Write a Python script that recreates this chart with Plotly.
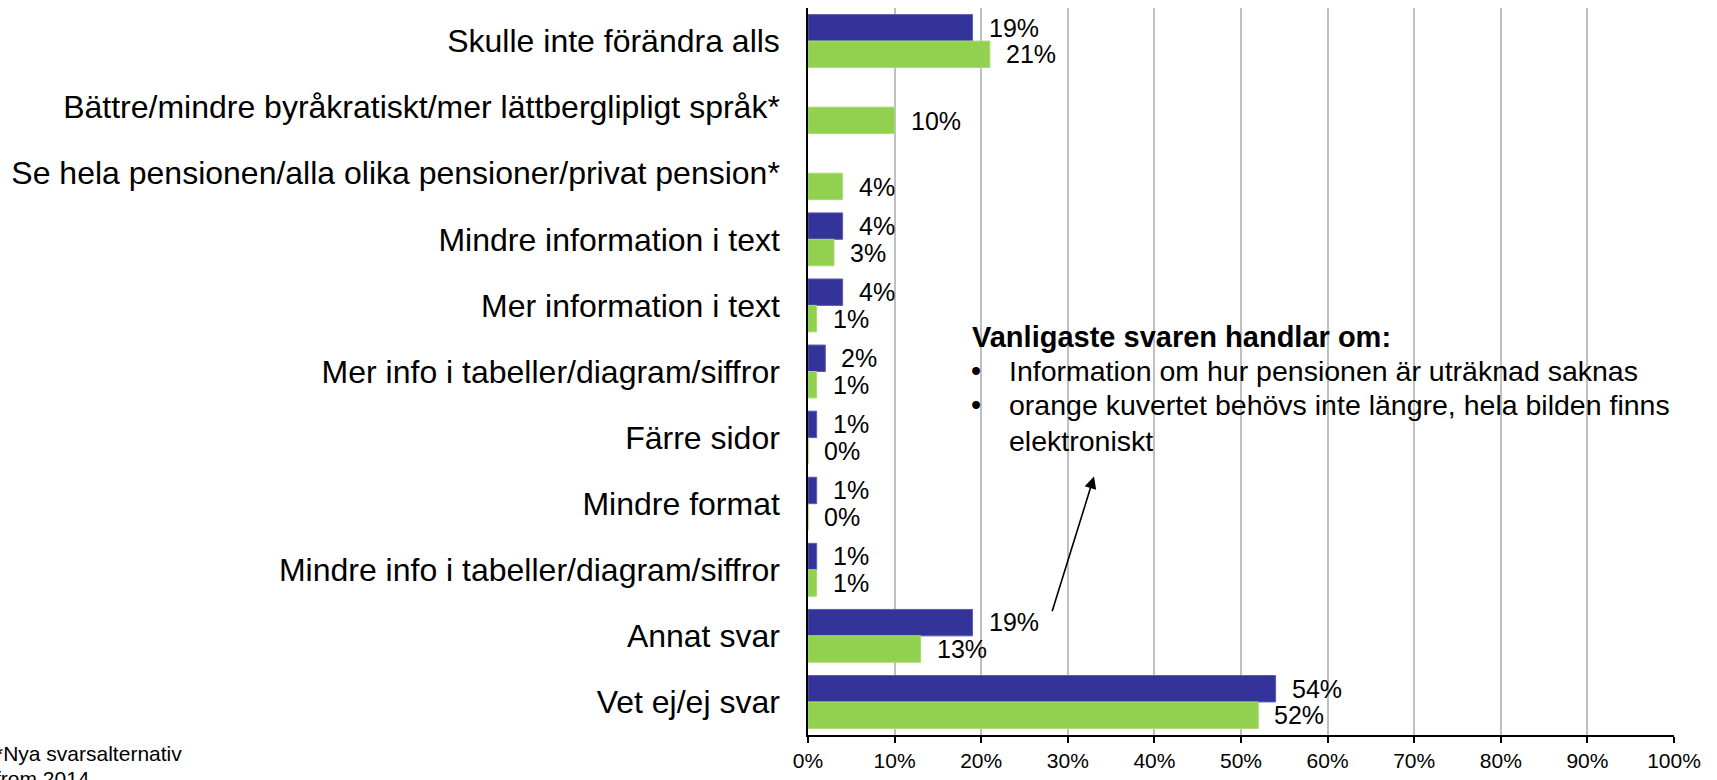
import plotly.graph_objects as go

categories = [
    "Skulle inte förändra alls",
    "Bättre/mindre byråkratiskt/mer lättberglipligt språk*",
    "Se hela pensionen/alla olika pensioner/privat pension*",
    "Mindre information i text",
    "Mer information i text",
    "Mer info i tabeller/diagram/siffror",
    "Färre sidor",
    "Mindre format",
    "Mindre info i tabeller/diagram/siffror",
    "Annat svar",
    "Vet ej/ej svar",
]
series_a = [19, None, None, 4, 4, 2, 1, 1, 1, 19, 54]   # blue
series_b = [21, 10, 4, 3, 1, 1, 0, 0, 1, 13, 52]        # green
x_ticks = [0, 10, 20, 30, 40, 50, 60, 70, 80, 90, 100]
x_tick_labels = [f"{v}%" for v in x_ticks]

note_heading = "Vanligaste svaren handlar om:"
note_lines = [
    "Information om hur pensionen är uträknad saknas",
    "orange kuvertet behövs inte längre, hela bilden finns",
    "elektroniskt",
]
footnote = ["*Nya svarsalternativ", "from 2014"]

BLUE = "#333399"
GREEN = "#92D050"
FONT = "Liberation Sans, Arial, sans-serif"

W, H = 1717, 780
ML, MR, MT, MB = 808, 43, 8, 35
PW = W - ML - MR
PH = H - MT - MB


def px_x(px):
    return (px - ML) / PW


def px_y(py):
    return (H - MB - py) / PH


fig = go.Figure()
fig.add_trace(go.Bar(
    y=categories, x=series_a, orientation="h", name="A",
    marker=dict(color=BLUE, line=dict(color="#5c5cb0", width=1)),
    hoverinfo="x+y",
))
fig.add_trace(go.Bar(
    y=categories, x=series_b, orientation="h", name="B",
    marker=dict(color=GREEN, line=dict(color="#a8dc72", width=1)),
    hoverinfo="x+y",
))

annotations = []
band = PH / len(categories)
off = band * 0.8 / 4
for vals, shift in ((series_a, off), (series_b, -off)):
    for cat, v in zip(categories, vals):
        if v is None:
            continue
        annotations.append(dict(
            x=v, y=cat, xref="x", yref="y", text=f"{v}%",
            showarrow=False, xanchor="left", yanchor="middle",
            xshift=14, yshift=shift,
            font=dict(family=FONT, size=25, color="#000000"),
        ))

# explanatory note
annotations.append(dict(
    x=px_x(970), y=px_y(341.5), xref="paper", yref="paper",
    text=f"<b>{note_heading}</b>", showarrow=False,
    xanchor="left", yanchor="middle",
    font=dict(family=FONT, size=29, color="#000000"),
))
for i, (line, cy) in enumerate(zip(note_lines, [376, 410, 446.5])):
    if i < 2:
        annotations.append(dict(
            x=px_x(969), y=px_y(cy), xref="paper", yref="paper",
            text="•", showarrow=False, xanchor="left", yanchor="middle",
            font=dict(family=FONT, size=29, color="#000000"),
        ))
    annotations.append(dict(
        x=px_x(1007), y=px_y(cy), xref="paper", yref="paper",
        text=line, showarrow=False, xanchor="left", yanchor="middle",
        font=dict(family=FONT, size=28.5, color="#000000"),
    ))

# arrow
annotations.append(dict(
    x=px_x(1094), y=px_y(483), xref="paper", yref="paper",
    text="", showarrow=True, axref="pixel", ayref="pixel",
    ax=1051.7 - 1094, ay=619.3 - 483,
    arrowhead=2, arrowsize=1.5, arrowwidth=1.6, arrowcolor="#000000",
    standoff=0, startstandoff=0,
))

# footnote (bottom-left, partly cut by the page edge as in the original)
for line, cy in zip(footnote, [764, 789]):
    annotations.append(dict(
        x=px_x(-7), y=px_y(cy), xref="paper", yref="paper",
        text=line, showarrow=False, xanchor="left", yanchor="middle",
        font=dict(family=FONT, size=21, color="#000000"),
    ))

fig.update_layout(
    width=W, height=H,
    margin=dict(l=ML, r=MR, t=MT, b=MB, pad=0),
    paper_bgcolor="white", plot_bgcolor="white",
    barmode="group", bargap=0.2, bargroupgap=0,
    showlegend=False,
    font=dict(family=FONT, color="#000000"),
    annotations=annotations,
    xaxis=dict(
        range=[0, 100], tickvals=x_ticks, ticktext=x_tick_labels,
        showgrid=True, gridcolor="#C0C0C0", gridwidth=1.5,
        zeroline=False, showline=True, linecolor="#000000", linewidth=1.5,
        ticks="outside", ticklen=6, tickwidth=1.5, tickcolor="#000000",
        tickfont=dict(family=FONT, size=21, color="#000000"),
        fixedrange=True,
    ),
    yaxis=dict(
        autorange="reversed", showgrid=False, zeroline=False,
        showline=True, linecolor="#000000", linewidth=1.5,
        ticks="", ticklabelstandoff=20,
        tickfont=dict(family=FONT, size=32, color="#000000"),
        fixedrange=True,
    ),
)

fig.write_html(
    "out.html",
    config={"displayModeBar": False},
    post_script="document.body.style.margin='0';document.body.style.overflow='hidden';",
)
